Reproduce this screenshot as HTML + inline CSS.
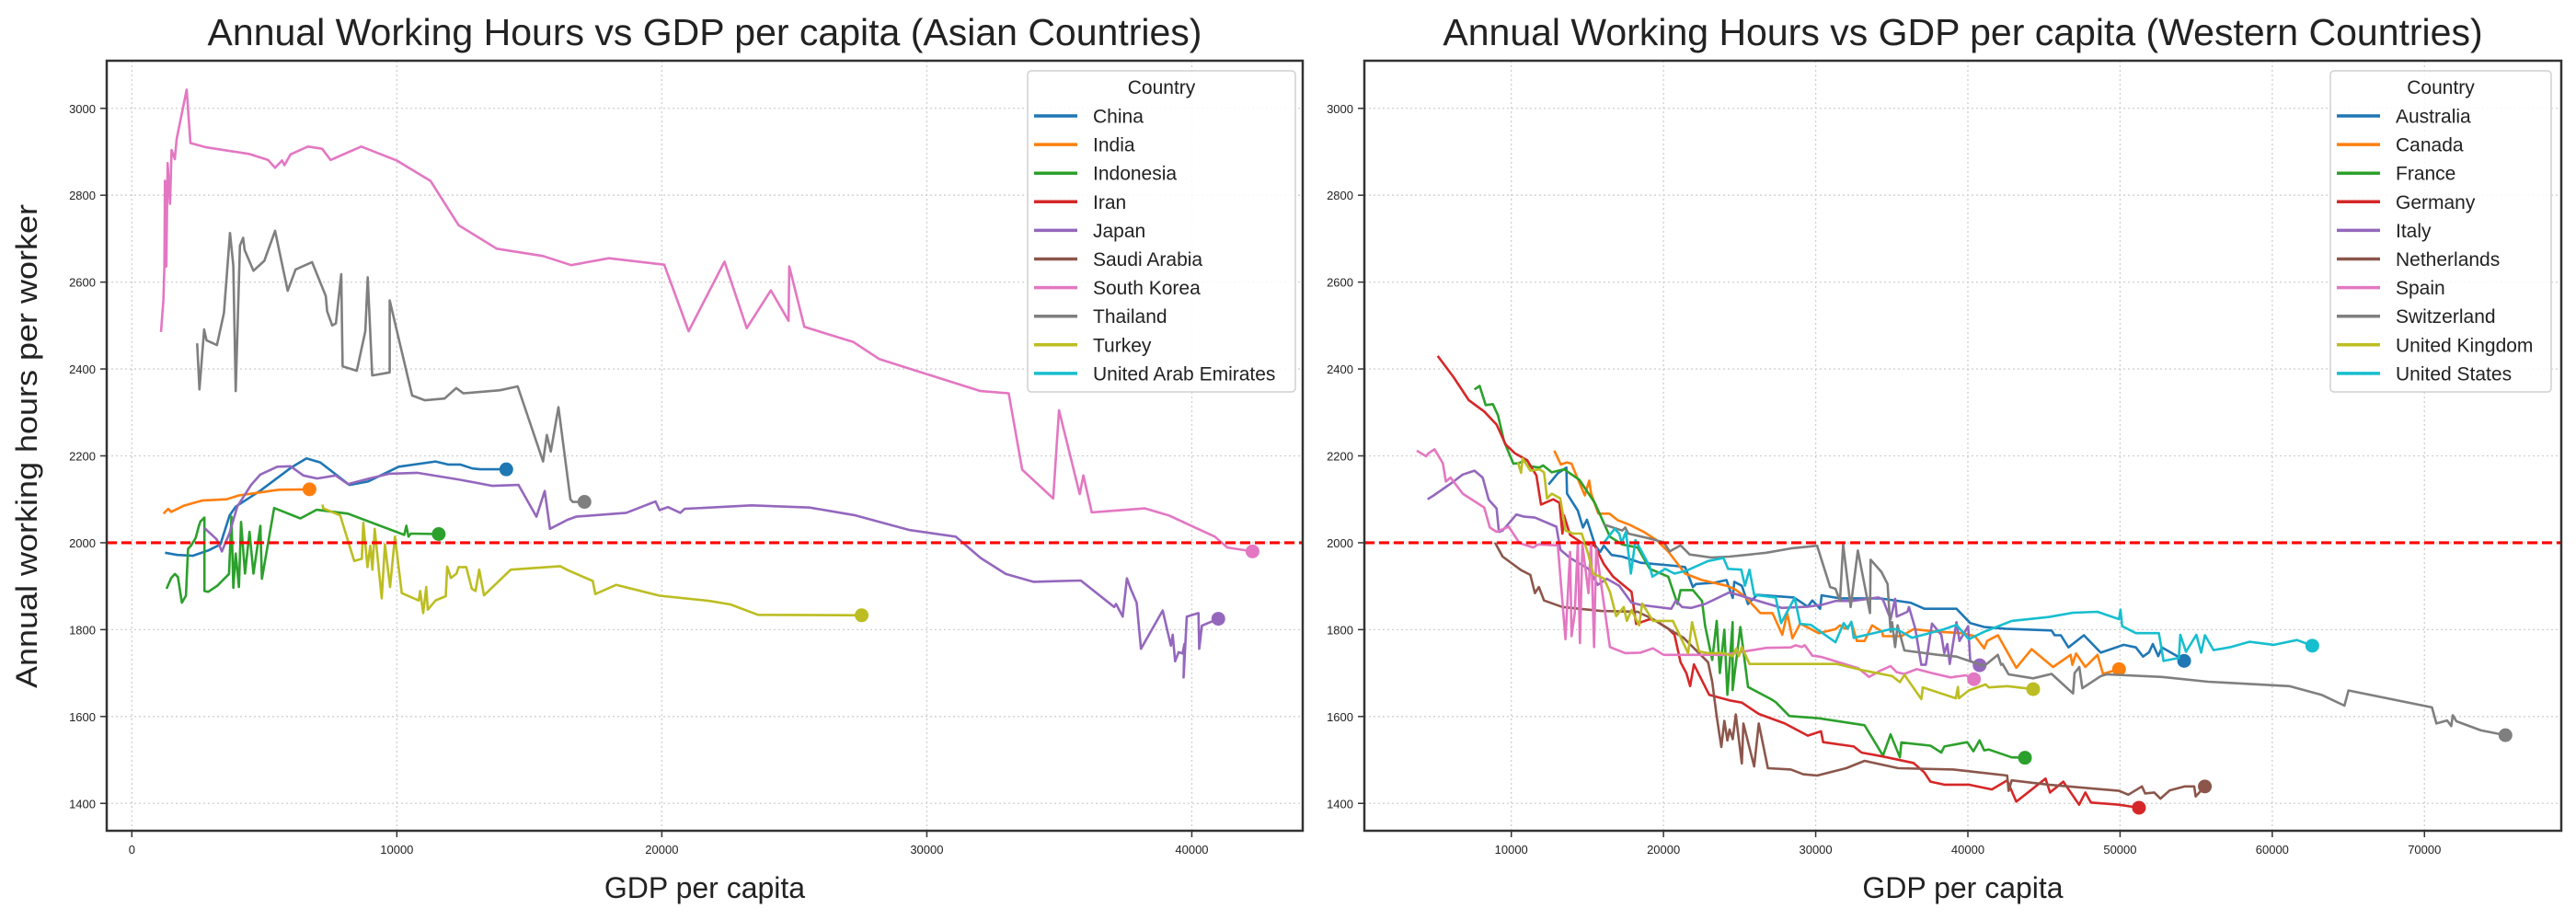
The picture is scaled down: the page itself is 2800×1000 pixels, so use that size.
<!DOCTYPE html>
<html><head><meta charset="utf-8"><style>
html,body{margin:0;padding:0;background:#fff;}
svg{display:block;font-family:"Liberation Sans",sans-serif;}
</style></head><body>
<svg id="chart" width="2800" height="1000" viewBox="0 0 2800 1000" xmlns="http://www.w3.org/2000/svg"></svg>
<script>
// ---------- Asian data [gdp, hours] ----------
const asiaNames = ["China","India","Indonesia","Iran","Japan","Saudi Arabia","South Korea","Thailand","Turkey","United Arab Emirates"];
const china = [[1253,1977],[1717,1972],[2297,1970],[2877,1982],[3340,1996],[3690,2063],[3920,2083],[4850,2120],[6010,2173],[6590,2194],[7110,2185],[8210,2133],[8910,2141],[10070,2175],[11460,2187],[11930,2180],[12390,2180],[12850,2171],[13140,2169],[14130,2169]];
const india = [[1195,2067],[1370,2078],[1485,2071],[1950,2085],[2645,2097],[3570,2100],[4040,2109],[4850,2116],[5545,2122],[6705,2123]];
const indonesia = [[1310,1894],[1485,1919],[1625,1928],[1740,1921],[1890,1862],[2040,1878],[2120,1986],[2240,1994],[2410,2011],[2530,2039],[2590,2049],[2740,2058],[2740,1889],[2880,1887],[3225,1901],[3665,1928],[3760,2060],[3830,1896],[3920,1975],[4040,1898],[4120,2048],[4270,1929],[4440,2025],[4590,1929],[4850,2039],[4910,1917],[5370,2080],[6360,2056],[6970,2076],[8155,2067],[10280,2018],[10360,2039],[10440,2014],[10530,2021],[11580,2020]];
const iran = [];
const japan = [[2740,2034],[3200,2008],[3400,1980],[3690,2023],[3980,2083],[4500,2133],[4850,2157],[5490,2175],[5990,2176],[6470,2155],[6995,2148],[7690,2155],[8155,2135],[8910,2147],[9720,2159],[10770,2161],[12390,2145],[13610,2131],[14590,2133],[15270,2060],[15580,2119],[15780,2032],[16450,2053],[16764,2060],[18656,2069],[19760,2095],[19915,2075],[20230,2082],[20700,2069],[20860,2078],[23380,2086],[25580,2081],[27310,2063],[29360,2029],[31090,2014],[32030,1965],[32980,1928],[34020,1910],[35810,1913],[37070,1852],[37140,1859],[37390,1830],[37550,1918],[37700,1893],[37920,1862],[38080,1756],[38900,1844],[39210,1763],[39280,1788],[39370,1727],[39500,1748],[39650,1745],[39720,1767],[39690,1690],[39810,1830],[40250,1838],[40280,1756],[40380,1809],[41000,1825]];
const saudi = [];
const korea = [[1100,2485],[1190,2558],[1230,2636],[1250,2833],[1300,2636],[1350,2874],[1440,2780],[1500,2904],[1620,2883],[1690,2929],[2070,3043],[2210,2920],[2820,2910],[4420,2895],[5140,2881],[5405,2863],[5670,2880],[5760,2869],[5990,2894],[6645,2912],[7180,2907],[7500,2881],[8660,2912],[9990,2880],[11270,2833],[12330,2731],[13770,2677],[15520,2660],[16580,2639],[18000,2655],[20090,2640],[21010,2487],[22365,2647],[23205,2494],[24115,2581],[24780,2511],[24810,2636],[25380,2497],[27230,2462],[28200,2423],[30007,2388],[32030,2349],[33090,2344],[33600,2168],[34770,2102],[34990,2305],[35770,2112],[35910,2155],[36225,2070],[38230,2079],[39130,2063],[40870,2014],[41340,1989],[42290,1980]];
const thailand = [[2465,2459],[2550,2353],[2730,2491],[2820,2466],[3210,2455],[3475,2529],[3705,2713],[3830,2638],[3920,2349],[4080,2684],[4200,2702],[4255,2674],[4590,2626],[5000,2649],[5405,2718],[5880,2580],[6180,2629],[6800,2646],[7320,2568],[7370,2533],[7560,2500],[7700,2505],[7900,2618],[7955,2406],[8490,2396],[8810,2487],[8900,2611],[9070,2385],[9730,2392],[9730,2558],[10085,2466],[10580,2339],[11060,2328],[11800,2332],[12240,2356],[12510,2344],[13890,2351],[14560,2360],[15520,2187],[15660,2248],[15810,2210],[16100,2312],[16550,2100],[16640,2094],[17080,2094]];
const turkey = [[7190,2088],[7225,2079],[7865,2063],[8390,1958],[8680,1963],[8735,2046],[8890,1944],[9000,1993],[9080,1938],[9165,2032],[9430,1872],[9550,1996],[9745,1898],[9930,2014],[10185,1884],[10825,1867],[10880,1889],[10995,1838],[11110,1898],[11170,1846],[11460,1867],[11845,1877],[11900,1945],[12040,1919],[12250,1929],[12330,1944],[12620,1944],[12830,1894],[12970,1889],[13110,1938],[13290,1879],[14300,1938],[16160,1946],[16450,1937],[17395,1912],[17490,1882],[18280,1903],[19915,1878],[21800,1866],[22590,1858],[23630,1834],[27540,1833]];
const uae = [];
const asiaSeries = [china,india,indonesia,iran,japan,saudi,korea,thailand,turkey,uae];

// ---------- Western data [gdp, hours] ----------
const westNames = ["Australia","Canada","France","Germany","Italy","Netherlands","Spain","Switzerland","United Kingdom","United States"];
const australia = [[12450,2134],[13060,2160],[13620,2173],[13660,2113],[14370,2074],[14710,2035],[14970,2053],[15520,1993],[15840,1979],[16080,1993],[16590,1972],[17290,1968],[18500,1954],[20720,1947],[21420,1944],[21930,1898],[22130,1905],[23340,1908],[24140,1914],[24550,1873],[24650,1910],[25150,1901],[25550,1859],[26160,1880],[28570,1874],[29480,1853],[29780,1867],[30290,1848],[30390,1879],[31600,1872],[34220,1872],[36230,1862],[37140,1848],[39250,1848],[40160,1815],[41070,1806],[42480,1802],[45500,1798],[45700,1787],[46110,1787],[46610,1759],[47620,1787],[48730,1747],[50240,1765],[51040,1759],[51510,1738],[51910,1748],[52150,1767],[52510,1739],[52750,1759],[53760,1739],[54210,1728]];
const canada = [[12820,2212],[13260,2180],[13660,2185],[13960,2182],[14270,2155],[14830,2109],[15120,2143],[15240,2114],[15720,2067],[16440,2067],[16990,2052],[17790,2041],[18700,2025],[19510,2007],[20310,1980],[21420,1929],[22530,1914],[24140,1901],[24650,1894],[25350,1876],[26360,1838],[27160,1838],[27810,1788],[28130,1838],[28470,1780],[28980,1814],[30190,1792],[31300,1801],[31600,1810],[31960,1802],[32360,1815],[32710,1774],[33210,1774],[33710,1810],[34380,1795],[34420,1785],[35630,1785],[36430,1801],[38050,1795],[39660,1792],[40460,1785],[41070,1757],[41270,1774],[41970,1787],[43180,1712],[44190,1755],[45600,1714],[46750,1742],[46870,1719],[47110,1745],[47720,1714],[48520,1742],[48880,1698],[49930,1709]];
const france = [[7580,2353],[7920,2361],[8320,2317],[8790,2319],[9130,2293],[9530,2233],[10140,2182],[10440,2183],[11040,2190],[11250,2176],[11850,2173],[12090,2178],[12660,2162],[13460,2169],[14470,2145],[15480,2092],[16480,2014],[17290,1996],[18300,1989],[19100,1940],[20310,1922],[20920,1859],[21120,1891],[21930,1891],[22530,1866],[22730,1810],[23200,1730],[23500,1820],[23700,1700],[24000,1800],[24200,1650],[24540,1817],[24540,1661],[25050,1806],[25550,1668],[27060,1640],[27370,1633],[28270,1601],[30190,1596],[33210,1580],[34420,1510],[34920,1559],[35530,1506],[35630,1540],[37540,1533],[38250,1517],[38450,1531],[39960,1541],[40360,1520],[40770,1545],[41070,1522],[41370,1524],[42880,1506],[43750,1505]];
const germany = [[5160,2430],[6210,2381],[7215,2328],[8223,2302],[9030,2272],[9630,2226],[10240,2206],[11040,2190],[11650,2155],[11950,2088],[12760,2100],[13160,2092],[13360,2021],[13460,2063],[13860,2018],[14670,1999],[15480,1993],[16080,1951],[16690,1922],[17900,1887],[18200,1813],[19100,1824],[19510,1820],[20310,1802],[20720,1788],[21120,1725],[21500,1700],[21750,1670],[22000,1720],[23000,1650],[24343,1637],[25150,1632],[26260,1606],[27970,1584],[29480,1556],[30350,1566],[30490,1541],[32500,1531],[33010,1517],[34420,1508],[36430,1493],[37140,1471],[37540,1450],[38450,1443],[40060,1443],[41570,1432],[42580,1453],[43180,1404],[45100,1457],[45400,1425],[46270,1450],[47310,1397],[47720,1425],[48080,1402],[49930,1397],[51240,1390]];
const italy = [[4500,2100],[4900,2109],[6210,2141],[6810,2157],[7580,2166],[8120,2150],[8520,2099],[9030,2079],[9190,2025],[9430,2028],[10340,2065],[10840,2060],[11550,2058],[12960,2037],[13220,1984],[13860,1965],[15070,1940],[15680,1903],[16280,1917],[17090,1901],[17900,1862],[18500,1857],[20510,1848],[20820,1867],[21220,1852],[21830,1850],[22730,1859],[24340,1886],[25550,1873],[27770,1850],[29480,1853],[30390,1857],[31300,1866],[32400,1866],[34120,1874],[34420,1869],[34920,1824],[35220,1871],[35330,1830],[36030,1841],[36130,1852],[36540,1802],[36940,1719],[37240,1719],[37640,1814],[38250,1788],[38450,1746],[38650,1767],[38810,1721],[39250,1817],[39450,1774],[40020,1808],[40160,1728],[40770,1718]];
const netherlands = [[8930,2000],[9430,1968],[10640,1937],[11250,1926],[11550,1884],[11810,1898],[12150,1867],[13360,1852],[15880,1843],[18300,1841],[19310,1824],[20310,1802],[21320,1781],[22330,1746],[22930,1725],[23200,1680],[23500,1600],[23800,1530],[24000,1590],[24200,1545],[24343,1570],[24550,1548],[24750,1605],[25150,1492],[25250,1584],[25960,1485],[26260,1584],[26860,1481],[28370,1478],[29180,1467],[30090,1464],[32000,1481],[33210,1498],[35430,1481],[39050,1478],[42580,1464],[42680,1429],[42880,1453],[45300,1443],[49930,1429],[50540,1420],[51440,1439],[51650,1423],[52250,1425],[52650,1411],[53260,1430],[54260,1439],[54870,1439],[54970,1416],[55570,1439]];
const spain = [[3790,2212],[4400,2199],[4560,2206],[4960,2215],[5500,2183],[5700,2141],[6010,2150],[6810,2113],[8220,2081],[8590,2035],[9030,2025],[9830,2037],[10540,1999],[11450,1989],[11750,1996],[13060,1994],[13560,1778],[13860,1979],[13960,1785],[14170,1838],[14370,2000],[14510,1769],[14670,1996],[15070,1884],[15240,2000],[15440,1760],[15580,1986],[16480,1760],[17490,1746],[18500,1747],[19310,1757],[20010,1742],[23940,1742],[26760,1758],[28370,1759],[28670,1764],[29080,1760],[29280,1764],[29780,1740],[30390,1737],[32800,1711],[33510,1691],[34220,1705],[34920,1716],[35330,1702],[35830,1698],[36630,1709],[37640,1700],[38850,1690],[39860,1695],[40400,1686]];
const switzerland = [[16080,2042],[17290,2028],[17490,2035],[17690,2021],[19310,2008],[20010,2001],[20410,1980],[21120,1994],[21720,1973],[23130,1966],[24340,1968],[26760,1977],[28370,1987],[30090,1993],[30950,1898],[31300,1894],[31600,1866],[31800,1996],[32300,1852],[32770,1982],[33570,1838],[33610,1961],[34320,1933],[34720,1905],[34920,1795],[35020,1817],[35220,1760],[35380,1810],[35830,1752],[38050,1742],[39250,1738],[41070,1716],[41970,1742],[42180,1719],[42280,1721],[42680,1697],[44290,1688],[45500,1698],[46910,1653],[47010,1700],[47320,1714],[47520,1665],[48730,1693],[49130,1697],[52750,1691],[55780,1680],[61120,1670],[63230,1650],[64740,1625],[65010,1660],[70490,1621],[70790,1584],[71490,1591],[71760,1578],[71860,1603],[72100,1589],[73710,1568],[75320,1557]];
const uk = [[10440,2185],[10640,2161],[10740,2194],[11250,2166],[11850,2169],[12150,2162],[12350,2102],[12660,2113],[13220,2102],[13560,2028],[14070,2021],[14630,2021],[15070,1972],[15380,1929],[16080,1918],[16480,1887],[16890,1831],[17390,1852],[17590,1820],[17900,1845],[18400,1810],[18600,1860],[19310,1820],[20620,1820],[21620,1746],[21880,1817],[22330,1750],[22930,1746],[23940,1746],[24540,1739],[24790,1757],[24950,1739],[25150,1760],[25650,1721],[31400,1721],[33010,1707],[35030,1693],[35530,1679],[35830,1696],[36940,1640],[37040,1667],[39210,1642],[39350,1668],[39410,1642],[40060,1660],[40460,1665],[41170,1674],[41370,1667],[42580,1670],[44290,1663]];
const usa = [[16080,2000],[16790,2032],[17090,2021],[17250,2000],[17530,2025],[17860,1929],[18160,2006],[19100,1945],[19270,1922],[20110,1940],[20720,1929],[21520,1936],[22930,1958],[23940,1965],[24240,1940],[25110,1938],[25350,1901],[25650,1938],[25960,1880],[27370,1874],[27730,1815],[28615,1873],[28980,1813],[29680,1811],[31300,1771],[31840,1815],[32100,1802],[32340,1818],[32500,1781],[34920,1801],[35330,1801],[36330,1781],[38450,1801],[39250,1811],[40060,1778],[41070,1795],[42880,1820],[45300,1829],[46910,1839],[48520,1841],[49930,1824],[50030,1846],[50140,1808],[51040,1792],[52550,1792],[52860,1728],[53860,1735],[53960,1788],[54330,1749],[55010,1788],[55330,1747],[55580,1787],[56140,1753],[57290,1760],[58500,1772],[60110,1765],[61620,1776],[62630,1763]];
const westSeries = [australia,canada,france,germany,italy,netherlands,spain,switzerland,uk,usa];

const yTicks = [1400,1600,1800,2000,2200,2400,2600,2800,3000];
const leftXTicks = [0,10000,20000,30000,40000];
const rightXTicks = [10000,20000,30000,40000,50000,60000,70000];
const refHours = [2000];

const colors = ["#1f77b4","#ff7f0e","#2ca02c","#d62728","#9467bd","#8c564b","#e377c2","#7f7f7f","#bcbd22","#17becf"];
const NS = "http://www.w3.org/2000/svg";
const svg = document.getElementById("chart");
function mk(tag, attrs, parent){const e=document.createElementNS(NS,tag);for(const k in attrs)e.setAttribute(k,attrs[k]);(parent||svg).appendChild(e);return e;}

function drawPanel(p){
  const g = mk("g",{});
  
  
  const sx = v => p.x0 + (v - p.xmin)/(p.xmax - p.xmin)*(p.x1 - p.x0);
  const sy = v => p.y1 - (v - 1337)/(3109.6 - 1337)*(p.y1 - p.y0);
  p.xt.forEach(t=>{
    const l=mk("line",{x1:sx(t),x2:sx(t),y1:p.y0,y2:p.y1,stroke:"#cfcfcf","stroke-width":1.3,"stroke-dasharray":"2,3"},g);
    
    
    const tk=mk("line",{x1:sx(t),x2:sx(t),y1:p.y1,y2:p.y1+7,stroke:"#333","stroke-width":1.5},g);
    
    
    const tx=mk("text",{x:sx(t),y:p.y1+25,"text-anchor":"middle","font-size":13,fill:"#222"},g);
    tx.textContent=t;
    
    
  });
  yTicks.forEach(t=>{
    const l=mk("line",{x1:p.x0,x2:p.x1,y1:sy(t),y2:sy(t),stroke:"#cfcfcf","stroke-width":1.3,"stroke-dasharray":"2,3"},g);
    
    
    const tk=mk("line",{x1:p.x0-7,x2:p.x0,y1:sy(t),y2:sy(t),stroke:"#333","stroke-width":1.5},g);
    
    
    const tx=mk("text",{x:p.x0-12,y:sy(t)+5,"text-anchor":"end","font-size":13,fill:"#222"},g);
    tx.textContent=t;
    
    
  });
  p.series.forEach((s,i)=>{
    if(!s.length) return;
    const pl=mk("polyline",{points:s.map(d=>sx(d[0]).toFixed(1)+","+sy(d[1]).toFixed(1)).join(" "),fill:"none",stroke:colors[i],"stroke-width":2.6,"stroke-linejoin":"round"},g);
    
    
    const last=s[s.length-1];
    const c=mk("circle",{cx:sx(last[0]),cy:sy(last[1]),r:7.5,fill:colors[i]},g);
    
    
  });
  refHours.forEach(h=>{
    const r=mk("line",{x1:p.x0,x2:p.x1,y1:sy(h),y2:sy(h),stroke:"#ff0000","stroke-width":3.2,"stroke-dasharray":"11,5"},g);
    
    
  });
  const f=mk("rect",{x:p.x0,y:p.y0,width:p.x1-p.x0,height:p.y1-p.y0,fill:"none",stroke:"#333","stroke-width":2.5},g);
  
  
  const ti=mk("text",{x:(p.x0+p.x1)/2,y:49,"text-anchor":"middle","font-size":41,fill:"#222"},g);
  ti.textContent=p.title;
  
  
  const xl=mk("text",{x:(p.x0+p.x1)/2,y:976,"text-anchor":"middle","font-size":32,fill:"#222"},g);
  xl.textContent="GDP per capita";
  
  
  const lg=mk("g",{},g);
  
  
  mk("rect",{x:p.lx,y:77,width:p.lw,height:349,rx:4,fill:"#fff","fill-opacity":0.85,stroke:"#d0d0d0","stroke-width":1.5},lg);
  const lt=mk("text",{x:p.lx+p.lw/2,y:102,"text-anchor":"middle","font-size":21,fill:"#222"},lg);
  lt.textContent="Country";
  
  
  p.names.forEach((n,i)=>{
    const yy=126+i*31.1;
    const e=mk("g",{},lg);
    
    
    mk("line",{x1:p.lx+7,x2:p.lx+54,y1:yy,y2:yy,stroke:colors[i],"stroke-width":3.5},e);
    const t=mk("text",{x:p.lx+71,y:yy+7.5,"font-size":21,fill:"#222"},e);
    t.textContent=n;
  });
}

drawPanel({key:"asian",x0:116,x1:1416,y0:66,y1:903,xmin:-948,xmax:44185,xt:leftXTicks,series:asiaSeries,names:asiaNames,title:"Annual Working Hours vs GDP per capita (Asian Countries)",lx:1117,lw:291});
drawPanel({key:"western",x0:1483,x1:2784,y0:66,y1:903,xmin:345,xmax:78990,xt:rightXTicks,series:westSeries,names:westNames,title:"Annual Working Hours vs GDP per capita (Western Countries)",lx:2533,lw:240});

const yl=mk("text",{x:0,y:0,"text-anchor":"middle","font-size":32,fill:"#222",transform:"translate(40,485) rotate(-90)",textLength:526,lengthAdjust:"spacingAndGlyphs"});
yl.textContent="Annual working hours per worker";


</script>
</body></html>
